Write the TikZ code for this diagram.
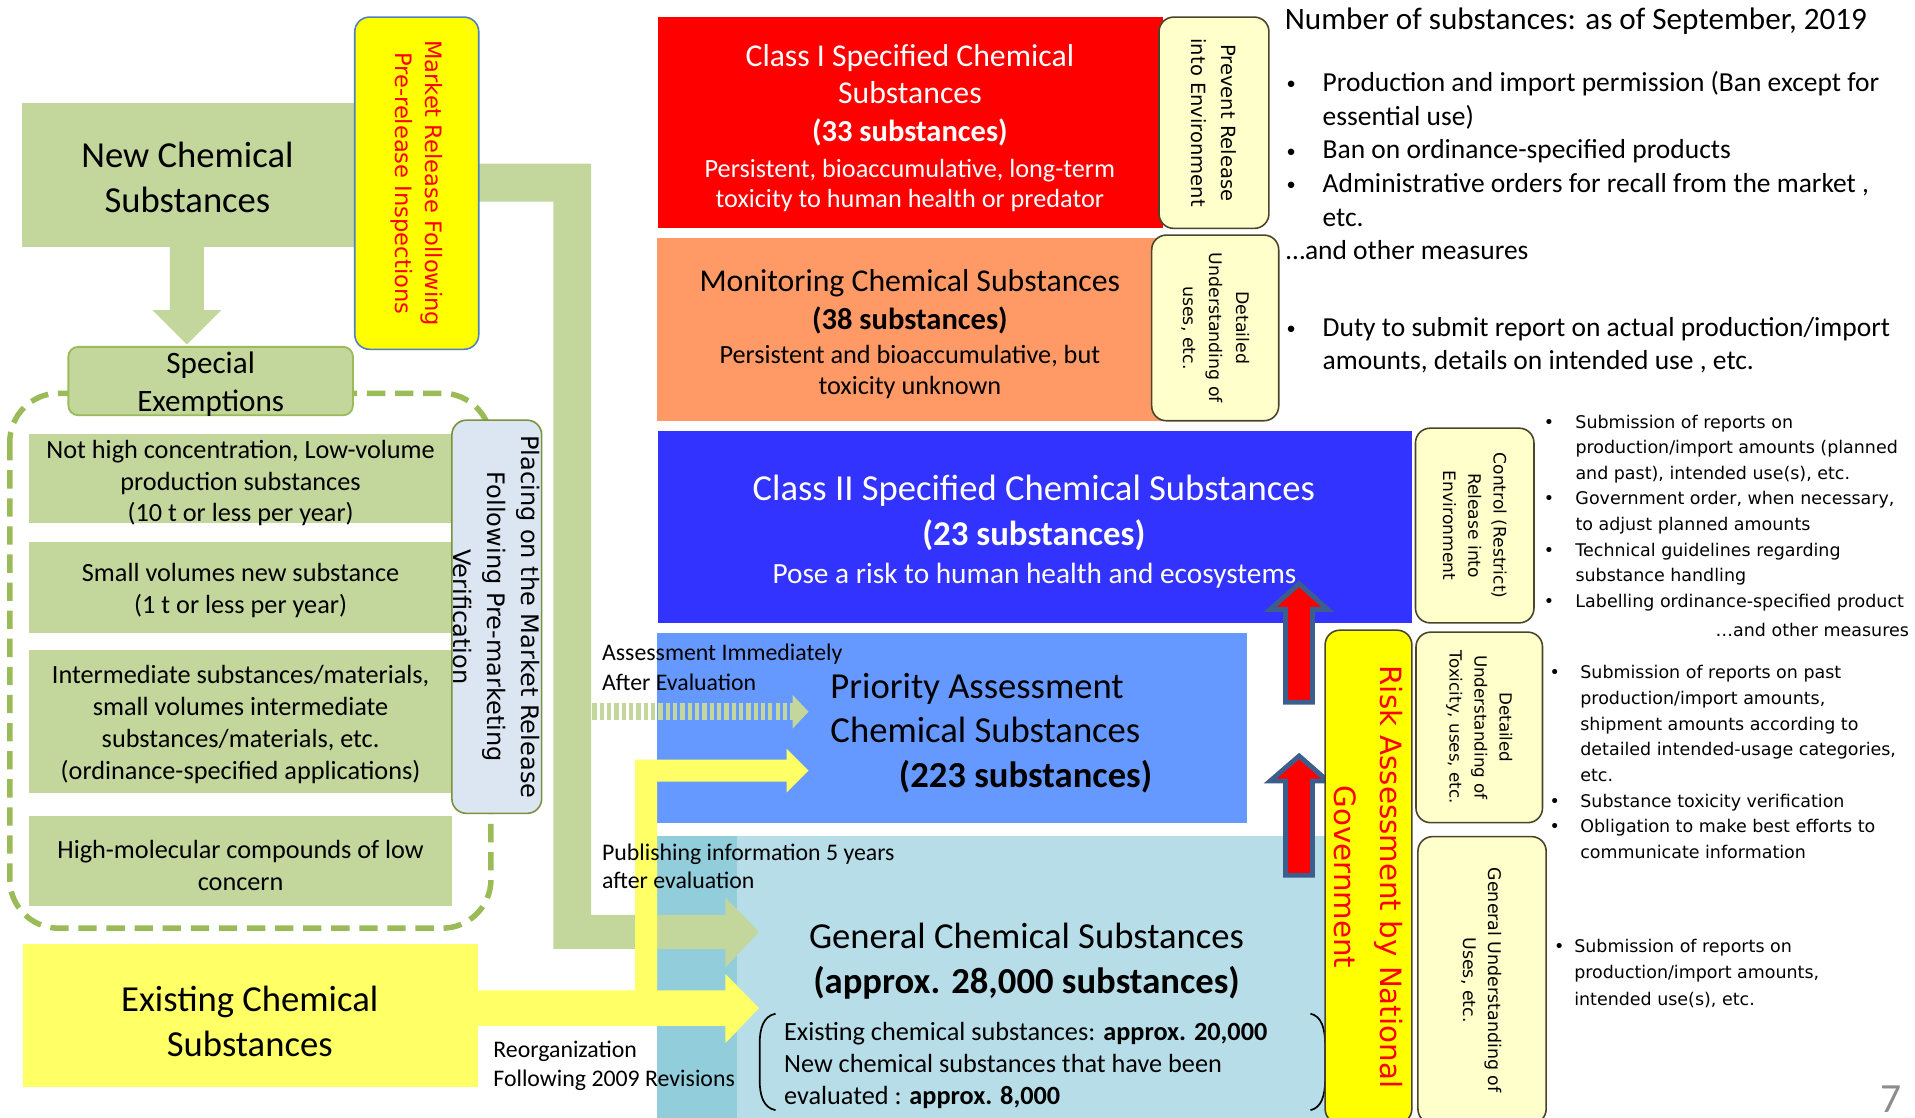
\documentclass[tikz,border=0pt]{standalone}
\usepackage{fontspec}
\setmainfont{Carlito}
\newfontfamily\vfont{DejaVu Sans}
\newcommand\setfs[2]{\fontsize{#1}{#2}\selectfont}
\newcommand\sbul{\llap{\raisebox{1.5pt}{\setfs{15}{15}\textbullet}\hspace{22pt}}}
\definecolor{lgreen}{HTML}{C3D69B}
\definecolor{dgreen}{HTML}{9BBB59}
\definecolor{placefill}{HTML}{DCE6F2}
\definecolor{placebrd}{HTML}{77933C}
\definecolor{mrkbrd}{HTML}{4F81BD}
\definecolor{ltyel}{HTML}{FFFFCC}
\definecolor{brd}{HTML}{4A452A}
\definecolor{yel}{HTML}{FFFF66}
\definecolor{pureyel}{HTML}{FFFF00}
\definecolor{c1red}{HTML}{FF0000}
\definecolor{monor}{HTML}{FF9966}
\definecolor{c2blue}{HTML}{3333FF}
\definecolor{priob}{HTML}{6699FF}
\definecolor{genb}{HTML}{B7DEE8}
\definecolor{gend}{HTML}{92CDDC}
\definecolor{arrbrd}{HTML}{3B5E8C}
\definecolor{pgray}{HTML}{8C8C8C}
\tikzset{
  every node/.style={inner sep=0pt, outer sep=0pt},
  area/.style={rectangle, draw=none},
  vlbl/.style={rectangle, rounded corners=12, draw=brd, line width=1.3, fill=ltyel, rotate=-90, align=center},
  gbox/.style={rectangle, fill=lgreen, minimum width=346},
  tx/.style={yshift=-2.5pt},
  gtext/.style={tx, align=center, font=\setfs{21.5}{26}},
  uparrow/.style={fill=red, draw=arrbrd, line width=4, line join=miter},
  txt/.style={tx, align=left, anchor=west},
}
\begin{document}
\begin{tikzpicture}[x=1pt,y=-1pt]
\useasboundingbox (0,0) rectangle (1568,915);
\clip (0,0) rectangle (1568,915);

% ---------- central area boxes ----------
\node[area, fill=genb, minimum width=552, minimum height=240, anchor=north west] (gen) at (538,684.5) {};
\node[area, fill=gend, minimum width=65.5, minimum height=240, anchor=north west] (genstrip) at (gen.north west) {};
\node[area, fill=c1red, minimum width=413, minimum height=172.5] (c1) at (745.5,100.25) {};
\node[area, fill=monor, minimum width=414, minimum height=149.5] (mon) at (745,269.75) {};
\node[area, fill=c2blue, minimum width=617, minimum height=157] (c2) at (847.5,431.5) {};
\node[area, fill=priob, minimum width=483, minimum height=156] (prio) at (779.5,596) {};

% ---------- green L-shaped band (market release) ----------
\fill[lgreen] (380,134) -- (484,134) -- (484,749) -- (594,749) -- (594,735) -- (621.5,763)
  -- (594,792) -- (594,777) -- (453,777) -- (453,165) -- (380,165) -- cycle;
% ---------- yellow bands (existing substances) ----------
\fill[yel] (391,811) -- (594,811) -- (594,797.5) -- (621.5,825.5) -- (594,854) -- (594,840) -- (391,840) -- cycle;
\fill[yel] (520,840) -- (520,622) -- (644,622) -- (644,613) -- (662,631) -- (644,649) -- (644,640) -- (538,640) -- (538,840) -- cycle;
% ---------- striped arrow ----------
\draw[lgreen, line width=13.5, dash pattern=on 3.5pt off 2.5pt] (485,582.75) -- (649,582.75);
\fill[lgreen] (649,569) -- (662,582.75) -- (649,596.5) -- cycle;

% ---------- red up arrows ----------
\draw[uparrow] (1063.7,478) -- (1087,499) -- (1074.7,499) -- (1074.7,575) -- (1052.7,575) -- (1052.7,499) -- (1040,499) -- cycle;
\draw[uparrow] (1063.7,619) -- (1087,639.5) -- (1074.7,639.5) -- (1074.7,716.6) -- (1052.7,716.6) -- (1052.7,639.5) -- (1040,639.5) -- cycle;

% ---------- left part ----------
\node[area, fill=lgreen, minimum width=272, minimum height=118] (new) at (154,143) {};
\node[tx, align=center, font=\setfs{30}{37}] (newt) at (153.5,143) {New Chemical\\Substances};
\fill[lgreen] (139,200) -- (167,200) -- (167,254) -- (181,254) -- (153,282) -- (125,254) -- (139,254) -- cycle;

\draw[dgreen, line width=4.5, dash pattern=on 15pt off 8pt, rounded corners=40] (8,322) rectangle (402,760);
\node[rectangle, rounded corners=8, fill=lgreen, draw=dgreen, line width=1.5, minimum width=233, minimum height=56] (spec) at (172.5,312) {};
\node[tx, align=center, font=\setfs{25.5}{30.5}] (spect) at (172.5,312) {Special\\Exemptions};

\node[gbox, minimum height=73] (g1) at (197,391.5) {};
\node[gtext] (g1t) at (197,393) {Not high concentration, Low-volume\\production substances\\(10 t or less per year)};
\node[gbox, minimum height=74] (g2) at (197,481) {};
\node[gtext] (g2t) at (197,481) {Small volumes new substance\\(1 t or less per year)};
\node[gbox, minimum height=117] (g3) at (197,590.5) {};
\node[gtext, font=\setfs{21.5}{26.3}] (g3t) at (197,590.5) {Intermediate substances/materials,\\small volumes intermediate\\substances/materials, etc.\\(ordinance-specified applications)};
\node[gbox, minimum height=74] (g4) at (197,705) {};
\node[gtext] (g4t) at (197,706) {High-molecular compounds of low\\concern};

\node[vlbl, fill=placefill, draw=placebrd, minimum width=322, minimum height=73.5, font=\vfont\setfs{19.7}{28}] (place) at (406.75,505) {Placing on the Market Release\\Following Pre-marketing\\Verification};
\node[vlbl, fill=pureyel, draw=mrkbrd, text=red, minimum width=272, minimum height=101.5, font=\vfont\setfs{18.5}{24}] (mrk) at (341.25,150) {Market Release Following\\Pre-release Inspections};

\node[area, fill=yel, minimum width=372, minimum height=117] (exist) at (205,831.5) {};
\node[tx, align=center, font=\setfs{30}{37}] (existt) at (204.5,834) {Existing Chemical\\Substances};

\node[txt, font=\setfs{19.5}{24}] (reorg) at (404,870) {Reorganization\\Following 2009 Revisions};
\node[txt, font=\setfs{19.5}{24}] (assess) at (493,544) {Assessment Immediately\\After Evaluation};
\node[txt, font=\setfs{19.5}{23}] (publ) at (493,706.5) {Publishing information 5 years\\after evaluation};

% ---------- texts in central boxes ----------
\node[tx, align=center, text=white, font=\setfs{26}{30.5}] (c1t) at (745,75.5) {Class I Specified Chemical\\Substances\\{\setfs{25}{30.5}\bfseries (33 substances)}};
\node[tx, align=center, text=white, font=\setfs{21.5}{25}] (c1d) at (745,149.5) {Persistent, bioaccumulative, long-term\\toxicity to human health or predator};
\node[tx, align=center, font=\setfs{26}{31}] (mont) at (745,244.5) {Monitoring Chemical Substances\\{\setfs{25}{31}\bfseries (38 substances)}};
\node[tx, align=center, font=\setfs{21.5}{26}] (mond) at (745,302) {Persistent and bioaccumulative, but\\toxicity unknown};
\node[tx, align=center, text=white, font=\setfs{30}{37}] (c2t) at (846.5,417.5) {Class II Specified Chemical Substances\\{\setfs{28.5}{37}\bfseries (23 substances)}};
\node[tx, align=center, text=white, font=\setfs{24}{28}] (c2d) at (847,469) {Pose a risk to human health and ecosystems};
\node[txt, font=\setfs{30}{36.5}] (priot) at (680,597.5) {Priority Assessment\\Chemical Substances\\\hspace*{56pt}\textbf{(223 substances)}};
\node[tx, align=center, font=\setfs{30}{37}] (gent) at (840.5,784.5) {General Chemical Substances\\\textbf{(approx. 28,000 substances)}};
\node[txt, font=\setfs{21.5}{26}] (genl) at (642,870) {Existing chemical substances: \textbf{approx. 20,000}\\New chemical substances that have been\\evaluated : \textbf{approx. 8,000}};
\draw[line width=1.4] (635,830) .. controls (625,832) and (622,842) .. (622,855) -- (622,884) .. controls (622,897) and (625,907) .. (635,909);
\draw[line width=1.4] (1073,830) .. controls (1082,832) and (1085,842) .. (1085,855) -- (1085,884) .. controls (1085,897) and (1082,907) .. (1073,909);

% ---------- right vertical label boxes ----------
\node[vlbl, minimum width=173, minimum height=90, font=\vfont\setfs{16}{25}] (prevent) at (994,100.5) {Prevent Release\\into Environment};
\node[vlbl, minimum width=152, minimum height=104, font=\vfont\setfs{14.2}{21.7}] (det1) at (995,268.5) {Detailed\\Understanding of\\uses, etc.};
\node[vlbl, minimum width=159.4, minimum height=97, font=\vfont\setfs{14}{20.6}] (ctrl) at (1207.5,430.3) {Control (Restrict)\\Release into\\Environment};
\node[vlbl, fill=pureyel, text=red, minimum width=404, minimum height=71, font=\vfont\setfs{24}{37}] (risk) at (1120.5,718) {Risk Assessment by National\\Government};
\node[vlbl, minimum width=156, minimum height=103.6, font=\vfont\setfs{13.7}{20.5}] (det2) at (1211.2,595.6) {Detailed\\Understanding of\\Toxicity, uses, etc.};
\node[vlbl, minimum width=235, minimum height=105, font=\vfont\setfs{14.25}{20.5}] (genund) at (1213.5,802.5) {General Understanding of\\Uses, etc.};

% ---------- right texts ----------
\node[txt, font=\setfs{25.5}{30}] (numsub) at (1052,15) {Number of substances: as of September, 2019};
\node[txt, font=\setfs{22.5}{27.5}] (meas1) at (1083,119.5) {\sbul Production and import permission (Ban except for\\essential use)\\\sbul Ban on ordinance-specified products\\\sbul Administrative orders for recall from the market ,\\etc.};
\node[txt, font=\setfs{22.5}{27.5}] (other1) at (1053,202.5) {\char"2026and other measures};
\node[txt, font=\setfs{22.5}{27}] (meas2) at (1083,280) {\sbul Duty to submit report on actual production/import\\amounts, details on intended use , etc.};
\node[txt, font=\vfont\setfs{14.3}{21}] (meas3) at (1290,417.5) {\llap{\textbullet\hspace{17.5pt}}Submission of reports on\\production/import amounts (planned\\and past), intended use(s), etc.\\\llap{\textbullet\hspace{17.5pt}}Government order, when necessary,\\to adjust planned amounts\\\llap{\textbullet\hspace{17.5pt}}Technical guidelines regarding\\substance handling\\\llap{\textbullet\hspace{17.5pt}}Labelling ordinance-specified product};
\node[tx, anchor=east, font=\vfont\setfs{14.3}{21}] (other3) at (1563,513) {\char"2026and other measures};
\node[txt, font=\vfont\setfs{14.3}{21}] (meas4) at (1294,621.5) {\llap{\textbullet\hspace{16.7pt}}Submission of reports on past\\production/import amounts,\\shipment amounts according to\\detailed intended-usage categories,\\etc.\\\llap{\textbullet\hspace{16.7pt}}Substance toxicity verification\\\llap{\textbullet\hspace{16.7pt}}Obligation to make best efforts to\\communicate information};
\node[txt, font=\vfont\setfs{14.3}{21.5}] (meas5) at (1289,794.5) {\llap{\textbullet\hspace{8pt}}Submission of reports on\\production/import amounts,\\intended use(s), etc.};
\node[anchor=base, text=pgray, font=\setfs{34}{40}] (pnum) at (1548,911) {7};
\end{tikzpicture}
\end{document}
